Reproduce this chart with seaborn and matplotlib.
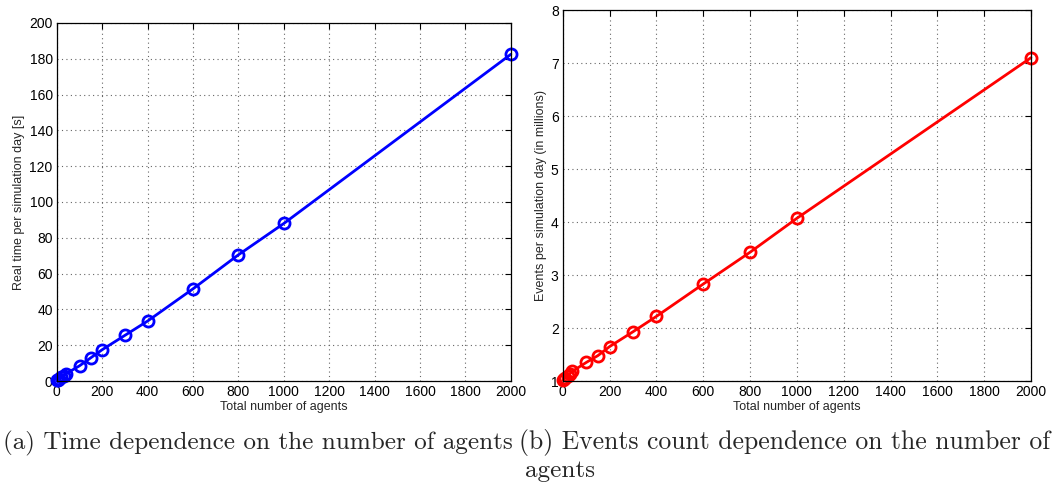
import matplotlib
matplotlib.use("Agg")
import matplotlib.pyplot as plt
import seaborn as sns
import pandas as pd

agents = [1, 5, 10, 20, 30, 40, 100, 150, 200, 300, 400, 600, 800, 1000, 2000]
time_s = [0.5, 0.8, 1.2, 2.0, 3.0, 4.0, 8.5, 13.0, 17.5, 25.5, 33.5, 51.5, 70.5, 88.0, 182.5]
events_m = [1.02, 1.04, 1.06, 1.10, 1.14, 1.18, 1.35, 1.48, 1.65, 1.93, 2.22, 2.83, 3.43, 4.07, 7.10]

df = pd.DataFrame({"agents": agents, "time": time_s, "events": events_m})

sns.set_theme(style="white")
plt.rcParams["font.family"] = ["Liberation Sans", "DejaVu Sans"]

fig = plt.figure(figsize=(10.52, 4.84), dpi=100)
ax1 = fig.add_axes([0.054, 0.2128, 0.4316, 0.7397])
ax2 = fig.add_axes([0.535, 0.2128, 0.445, 0.7665])

def style(ax, ylim, yticks, ylabel):
    ax.set_xlim(0, 2000)
    ax.set_ylim(*ylim)
    ax.set_xticks(range(0, 2001, 200))
    ax.set_yticks(yticks)
    ax.grid(True, linestyle=(0, (1, 3)), color="#666666", linewidth=0.8)
    for s in ax.spines.values():
        s.set_color("black")
        s.set_linewidth(0.9)
    ax.tick_params(direction="in", top=True, right=True, length=4, width=0.8,
                   labelsize=10, pad=3, colors="black")
    ax.set_xlabel("Total number of agents", fontsize=9, labelpad=1)
    ax.set_ylabel(ylabel, fontsize=9, labelpad=3)

sns.lineplot(data=df, x="agents", y="time", ax=ax1, color="#0000ff", linewidth=2,
             marker="o", markersize=8, markerfacecolor="none", markeredgecolor="#0000ff",
             markeredgewidth=2, clip_on=False)
style(ax1, (0, 200), range(0, 201, 20), "Real time per simulation day [s]")

sns.lineplot(data=df, x="agents", y="events", ax=ax2, color="#ff0000", linewidth=2,
             marker="o", markersize=8, markerfacecolor="none", markeredgecolor="#ff0000",
             markeredgewidth=2, clip_on=False)
style(ax2, (1, 8), range(1, 9), "Events per simulation day (in millions)")

cap = dict(family=["cmr10", "DejaVu Serif"], va="baseline")
fig.text(0.003, 0.0722, "(a) Time dependence on the number of agents", ha="left",
         fontsize=18.1, **cap)
fig.text(0.998, 0.0722, "(b) Events count dependence on the number of", ha="right",
         fontsize=18.5, **cap)
fig.text(0.532, 0.0145, "agents", ha="center", fontsize=18.1, **cap)

fig.savefig("out.png", dpi=100)
